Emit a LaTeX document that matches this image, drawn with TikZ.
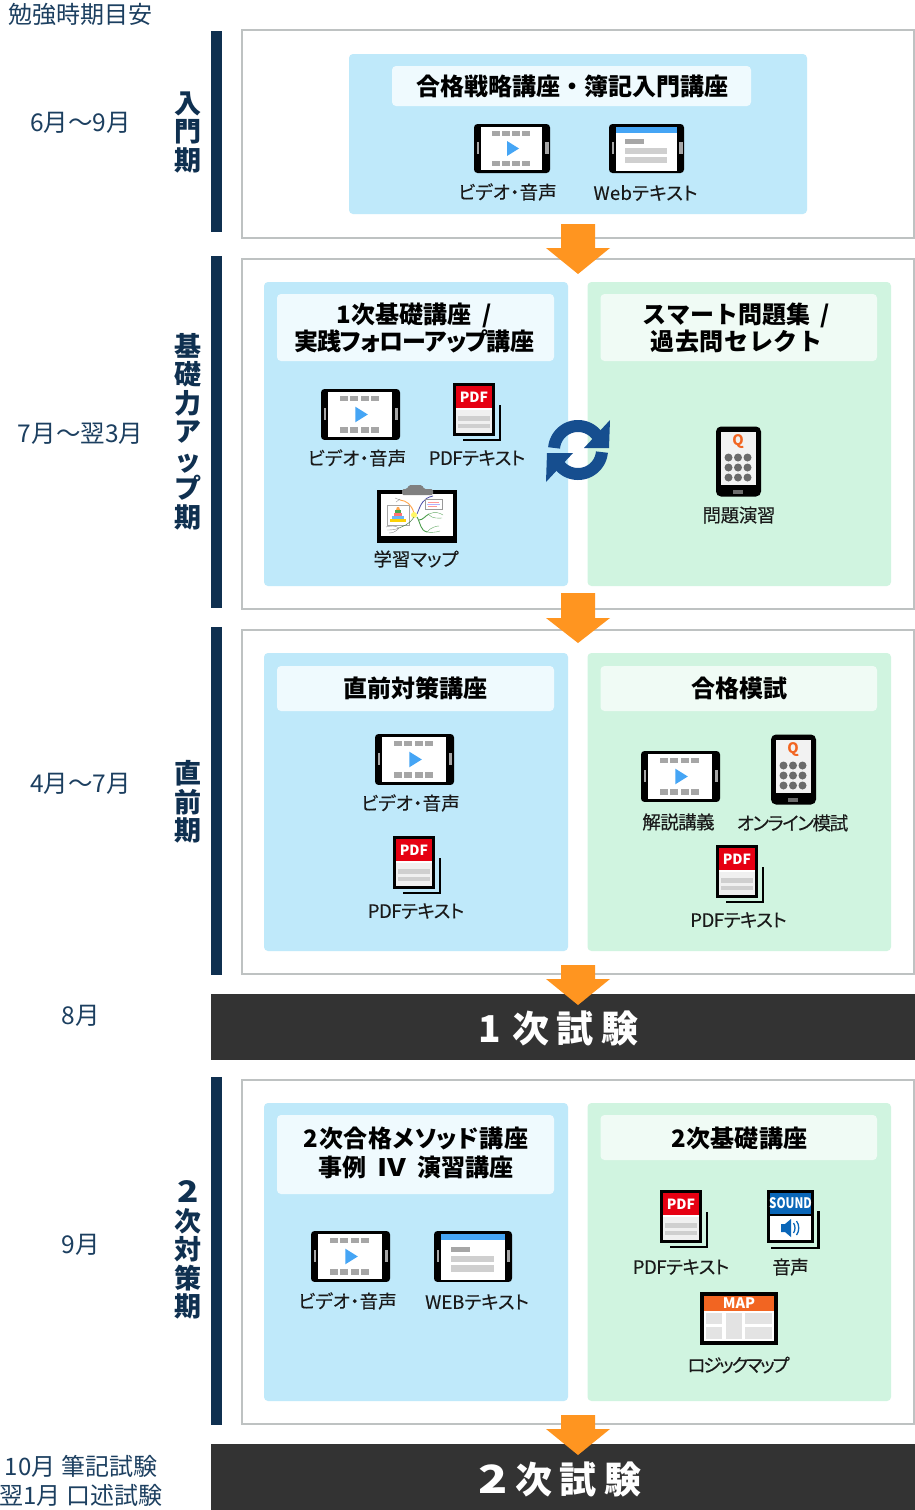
\documentclass[tikz,border=0pt]{standalone}
\usepackage{fontspec}
\setmainfont{Noto Sans CJK JP}[RawFeature={+palt}]
\newfontfamily\plainjp{Noto Sans CJK JP}
\newfontfamily\labelfont{Noto Sans CJK JP}[RawFeature={+palt},FakeBold=0.2]
\newcommand{\trk}[1]{\addfontfeature{LetterSpace=#1}}
\definecolor{navy}{HTML}{0F3050}
\definecolor{navytext}{HTML}{1C3F60}
\definecolor{frameg}{HTML}{BEC2C2}
\definecolor{bluep}{HTML}{BFE9FA}
\definecolor{bluet}{HTML}{EFFAFE}
\definecolor{greenp}{HTML}{D0F4E0}
\definecolor{greent}{HTML}{F0FBF5}
\definecolor{arrowo}{HTML}{FF9520}
\definecolor{barblack}{HTML}{333333}
\definecolor{icong}{HTML}{A6A6A6}
\definecolor{iconl}{HTML}{CFCFCF}
\definecolor{playb}{HTML}{45A5F5}
\definecolor{pdfred}{HTML}{E60012}
\definecolor{soundb}{HTML}{0A66B8}
\definecolor{mapo}{HTML}{F26522}
\definecolor{refresh}{HTML}{164E8F}
\definecolor{inkk}{HTML}{1A1A1A}
\tikzset{
  x=1pt,y=-1pt,
  stage/.style={draw=frameg,line width=2pt,fill=white},
  sidebar/.style={fill=navy},
  bluepanel/.style={fill=bluep,rounded corners=4pt},
  greenpanel/.style={fill=greenp,rounded corners=4pt},
  bluetitle/.style={fill=bluet,rounded corners=4pt},
  greentitle/.style={fill=greent,rounded corners=4pt},
  titletext/.style={inner sep=0pt,align=center,text=black,font=\fontsize{24}{27}\selectfont\bfseries},
  labeltext/.style={inner sep=0pt,text=inkk,font=\fontsize{18.5}{22}\selectfont\labelfont},
  periodtext/.style={inner sep=0pt,text=navytext,align=center,font=\fontsize{24.5}{29}\selectfont\plainjp},
  verttext/.style={inner sep=0pt,text=navy,align=center,font=\fontsize{27}{28.5}\selectfont\bfseries},
  examtext/.style={inner sep=0pt,text=white,font=\fontsize{37}{40}\selectfont\bfseries},
  flowarrow/.style={fill=arrowo},
  pics/videoicon/.style={code={
    \fill[black,rounded corners=3.5pt] (0,0) rectangle (76,49);
    \fill[white] (7,3) rectangle (68,46);
    \fill[icong] (3,18) rectangle (4.5,30);
    \fill[icong] (71,18) rectangle (74.5,30);
    \foreach \b in {18,28,38,48}{\fill[icong] (\b,7) rectangle ++(8,5);\fill[icong] (\b,37) rectangle ++(8,5);}
    \fill[playb] (33,17) -- (45,24.5) -- (33,32) -- cycle;
  }},
  pics/webicon/.style={code={
    \fill[black,rounded corners=3.5pt] (0,0) rectangle (75,49);
    \fill[white] (7,3) rectangle (68,47);
    \fill[playb] (7,3) rectangle (68,9);
    \fill[icong] (3,18) rectangle (4.5,30);
    \fill[icong] (70,18) rectangle (73.5,30);
    \fill[icong] (16,15) rectangle (35,20);
    \fill[iconl] (16,24) rectangle (58,30);
    \fill[iconl] (16,33) rectangle (58,39);
  }},
  pics/pdficon/.style={code={
    \fill[black] (45.5,22) rectangle (48,58);
    \fill[black] (10,55.5) rectangle (48,58);
    \fill[black] (0,0) rectangle (42,53);
    \fill[pdfred] (3,3) rectangle (39,24.5);
    \fill[white] (3,24.5) rectangle (39,27);
    \fill[white!94!black] (3,27) rectangle (39,50);
    \fill[iconl] (5,33) rectangle (37,37.5);
    \fill[iconl] (5,40.5) rectangle (37,45);
    \node[inner sep=0pt,text=white] at (21,14) {\fontsize{14}{15}\selectfont\bfseries PDF};
  }},
  pics/soundicon/.style={code={
    \fill[black] (50,21) rectangle (53,59);
    \fill[black] (4,56.5) rectangle (53,59);
    \fill[black] (0,0) rectangle (47,53);
    \fill[soundb] (3,3) rectangle (44,24);
    \fill[white] (3,26) rectangle (44,50);
    \fill[soundb] (14,34) -- (18,34) -- (24,29) -- (24,47) -- (18,42) -- (14,42) -- cycle;
    \draw[soundb,line width=1.3pt] (26.5,33) .. controls (28.5,36) and (28.5,40) .. (26.5,43);
    \draw[soundb,line width=1.3pt] (29.5,31) .. controls (32.5,35) and (32.5,41) .. (29.5,45);
    \node[inner sep=0pt,text=white] at (23.5,13.5) {\scalebox{.8}[1]{\fontsize{14.5}{15}\selectfont\bfseries\plainjp SOUND}};
  }},
  pics/mapicon/.style={code={
    \fill[black] (0,0) rectangle (78,53);
    \fill[white] (4,4) rectangle (74,49);
    \fill[mapo] (4,4) rectangle (74,19);
    \foreach \a/\b/\c/\d in {6/21/22/32,6/35/22/47,26/21/42/47,45/21/72/32,45/35/72/47}{\fill[black!11] (\a,\b) rectangle (\c,\d);}
    \node[inner sep=0pt,text=white] at (39,11.5) {\fontsize{14.5}{15}\selectfont\bfseries MAP};
  }},
  pics/phoneicon/.style={code={
    \fill[black,rounded corners=5pt] (0,0) rectangle (45,70);
    \fill[white!95!black] (5,5) rectangle (40,58);
    \node[inner sep=0pt,text=mapo] at (22,15) {\fontsize{14.5}{15}\selectfont\bfseries Q};
    \foreach \px in {12.5,22,31.5}\foreach \py in {31,41,51}{\fill[black!58] (\px,\py) circle[radius=4];}
    \fill[black!58] (17,63) rectangle (27,67);
  }},
  pics/clipicon/.style={code={
    \fill[black] (0,0) rectangle (80,53);
    \fill[white] (4,4) rectangle (76,46);
    \fill[black!50,rounded corners=1.5pt] (25,-1) -- (30,-1) -- (32,-5) -- (45,-5) -- (47,-1) -- (56,-1) -- (56,5) -- (25,5) -- cycle;
    \draw[black!35,line width=.5pt,fill=white] (10,15) rectangle (32,35);
    \fill[orange!70] (20,17) -- (22,17) -- (23,20) -- (19,20) -- cycle;
    \fill[green!50!black!70] (18,20) rectangle (24,23);
    \fill[red!55] (17,23) rectangle (25,26);
    \fill[playb!80] (15,26) rectangle (27,29);
    \fill[yellow!70!orange] (13,29) rectangle (29,32);
    \draw[orange!70,line width=.9pt] (37,23) .. controls (34,14) and (30,11) .. (23,10);
    \draw[black!40,line width=.4pt] (23,10) -- (18,8) (23,9) -- (19,12);
    \draw[blue!50!black!70,line width=.8pt] (40,24) .. controls (44,14) and (46,8) .. (56,6);
    \draw[black!40,line width=.4pt,fill=white] (48,9) rectangle (65,19);
    \draw[red!40,line width=.5pt] (51,12) -- (62,12) (51,16) -- (60,16);
    \draw[blue!30,line width=.5pt] (50,14) -- (63,14);
    \fill[yellow!60] (37,25) circle[radius=3];
    \draw[green!45!black!70,line width=.9pt] (40,27) .. controls (44,34) and (43,40) .. (50,42);
    \draw[green!45!black!70,line width=.9pt] (42,30) .. controls (46,30) and (48,26) .. (52,24);
    \draw[green!45!black!60,line width=.4pt] (52,24) .. controls (58,21) and (63,23) .. (66,25) (52,25) .. controls (56,29) and (62,28) .. (65,28);
    \draw[green!45!black!60,line width=.4pt] (50,42) .. controls (54,37) and (60,36) .. (62,36) (50,42) .. controls (54,43) and (60,42) .. (63,41);
    \draw[green!30!black!70,line width=.5pt] (37,27) .. controls (32,35) and (26,36) .. (22,38);
    \draw[black!45,line width=.4pt] (22,38) .. controls (18,35) and (13,36) .. (9,37) (22,38) .. controls (18,40) and (13,40) .. (10,40) (22,38) .. controls (19,42) and (15,43) .. (12,43);
  }},
}
\begin{document}
\begin{tikzpicture}
\useasboundingbox (0,0) rectangle (915,1510);
\fill[white] (0,0) rectangle (915,1510);
% side bars
\fill[sidebar] (211,31) rectangle (222,232);
\fill[sidebar] (211,256) rectangle (222,608);
\fill[sidebar] (211,627) rectangle (222,975);
\fill[sidebar] (211,1077) rectangle (222,1425);
% stages
\draw[stage] (242,30) rectangle (914,238);
\draw[stage] (242,259) rectangle (914,609);
\draw[stage] (242,630) rectangle (914,974);
\draw[stage] (242,1080) rectangle (914,1424);
% exam bars
\fill[barblack] (211,994) rectangle (915,1060);
\fill[barblack] (211,1444) rectangle (915,1510);
% coloured panels
\fill[bluepanel] (349,54) rectangle (807,214);
\fill[bluetitle] (392,66) rectangle (751,106);
\fill[bluepanel] (264,282) rectangle (568,586);
\fill[bluetitle] (277,294) rectangle (554,361);
\fill[greenpanel] (587.5,282) rectangle (891,586);
\fill[greentitle] (600.5,294) rectangle (877,361);
\fill[bluepanel] (264,653) rectangle (568,951);
\fill[bluetitle] (277,666) rectangle (554,711);
\fill[greenpanel] (587.5,653) rectangle (891,951);
\fill[greentitle] (600.5,666) rectangle (877,711);
\fill[bluepanel] (264,1103) rectangle (568,1401);
\fill[bluetitle] (277,1115) rectangle (554,1194);
\fill[greenpanel] (587.5,1103) rectangle (891,1401);
\fill[greentitle] (600.5,1115) rectangle (877,1160);
% flow arrows
\foreach \t/\h/\e in {224/248/274,593/618/643,965/979/1005,1415/1429/1455}{
  \fill[flowarrow] (561,\t) -- (595,\t) -- (595,\h) -- (610,\h) -- (578,\e) -- (546,\h) -- (561,\h) -- cycle;
}
% refresh symbol
\draw[refresh,line width=12pt] plot[domain=30:175,samples=40] ({578+24*cos(\x)},{450-24*sin(\x)});
\fill[refresh] (610,420) -- (609,448) -- (584,448) -- cycle;
\draw[refresh,line width=12pt] plot[domain=210:355,samples=40] ({578+24*cos(\x)},{450-24*sin(\x)});
\fill[refresh] (546,482) -- (547,453) -- (573,453) -- cycle;
% period texts
\node[periodtext,font=\fontsize{24}{29}\selectfont\plainjp] (head) at (80.5,14) {勉強時期目安};
\node[periodtext] (p1) at (80.5,122.5) {6月～9月};
\node[periodtext] (p2) at (80.5,433.5) {7月～翌3月};
\node[periodtext] (p3) at (80.5,783.5) {4月～7月};
\node[periodtext] (p4) at (80.5,1015.5) {8月};
\node[periodtext] (p5) at (80.5,1244.5) {9月};
\node[periodtext,font=\fontsize{24}{29}\selectfont\plainjp] (p6) at (81,1480.5) {10月 筆記試験\\翌1月 口述試験};
% vertical stage names
\node[verttext] (v1) at (188,132) {入\\門\\期};
\node[verttext] (v2) at (188,431.5) {基\\礎\\力\\ア\\ッ\\プ\\期};
\node[verttext] (v3) at (188,802) {直\\前\\期};
\node[verttext] (v4) at (188,1250) {\scalebox{1.3}[1.1]{2}\\次\\対\\策\\期};
% titles
\node[titletext] (t1) at (572.5,86) {\plainjp 合格戦略講座・簿記入門講座};
\node[titletext] (t2) at (414,327.5) {{\plainjp\bfseries 1次基礎講座\hspace{.45em}/}\\{\trk{-3.6}実践フォローアップ講座}};
\node[titletext] (t3) at (736.5,327.5) {{\plainjp\bfseries スマート問題集\hspace{.45em}/}\\{\plainjp\bfseries\trk{2.5}過去問セレクト}};
\node[titletext] (t4) at (415.5,688) {直前対策講座};
\node[titletext] (t5) at (739,688) {合格模試};
\node[titletext] (t6) at (416,1152.5) {{\trk{2.3}2次合格メソッド講座}\\[2pt]事例\hspace{.45em}{\plainjp\bfseries\scalebox{1.2}[1]{Ⅳ}}\hspace{.45em}演習講座};
\node[titletext] (t7) at (739.5,1138) {{\trk{0.8}2次基礎講座}};
% exams
\node[examtext] (e1) at (558.5,1028.5) {1\hspace{.3em}次\hspace{.2em}試\hspace{.2em}験};
\node[examtext] (e2) at (560,1479.5) {\scalebox{1.3}[1.05]{2}\hspace{.2em}次\hspace{.2em}試\hspace{.2em}験};
% icons
\pic (i1) at (474,124) {videoicon};
\pic (i2) at (609,124) {webicon};
\pic[scale=1.04] (i3) at (321,389) {videoicon};
\pic (i4) at (453,383) {pdficon};
\pic (i5) at (377,490) {clipicon};
\pic (i6) at (716,426.5) {phoneicon};
\pic[scale=1.04] (i7) at (375,734) {videoicon};
\pic (i8) at (393,836) {pdficon};
\pic[scale=1.04] (i9) at (641,751) {videoicon};
\pic (i10) at (771,734.5) {phoneicon};
\pic (i11) at (716,845) {pdficon};
\pic[scale=1.04] (i12) at (311,1231) {videoicon};
\pic[scale=1.04] (i13) at (434,1231) {webicon};
\pic (i14) at (660,1190) {pdficon};
\pic (i15) at (767,1190) {soundicon};
\pic (i16) at (700,1292) {mapicon};
% labels
\node[labeltext] (l1) at (507.5,192) {{\trk{1}ビデオ・音声}};
\node[labeltext] (l2) at (645.5,193) {{\trk{1.5}Webテキスト}};
\node[labeltext] (l3) at (357,458) {{\trk{1}ビデオ・音声}};
\node[labeltext] (l4) at (477,458) {{\trk{-2.5}PDFテキスト}};
\node[labeltext] (l5) at (416,559) {学習マップ};
\node[labeltext] (l6) at (739,515) {{\trk{-2}問題演習}};
\node[labeltext] (l7) at (410.5,803) {{\trk{1}ビデオ・音声}};
\node[labeltext] (l8) at (416,911) {{\trk{-2.5}PDFテキスト}};
\node[labeltext] (l9) at (678.5,822) {{\trk{-3}解説講義}};
\node[labeltext] (l10) at (792.5,823) {{\trk{-7}オンライン模試}};
\node[labeltext] (l11) at (738.5,920) {{\trk{-2.5}PDFテキスト}};
\node[labeltext] (l12) at (347.5,1301) {{\trk{1}ビデオ・音声}};
\node[labeltext] (l13) at (477,1302) {WEBテキスト};
\node[labeltext] (l14) at (681,1267) {{\trk{-2.5}PDFテキスト}};
\node[labeltext] (l15) at (790.5,1267) {{\trk{-3}音声}};
\node[labeltext] (l16) at (738.5,1365) {{\trk{-12}ロジックマップ}};
\end{tikzpicture}
\end{document}
